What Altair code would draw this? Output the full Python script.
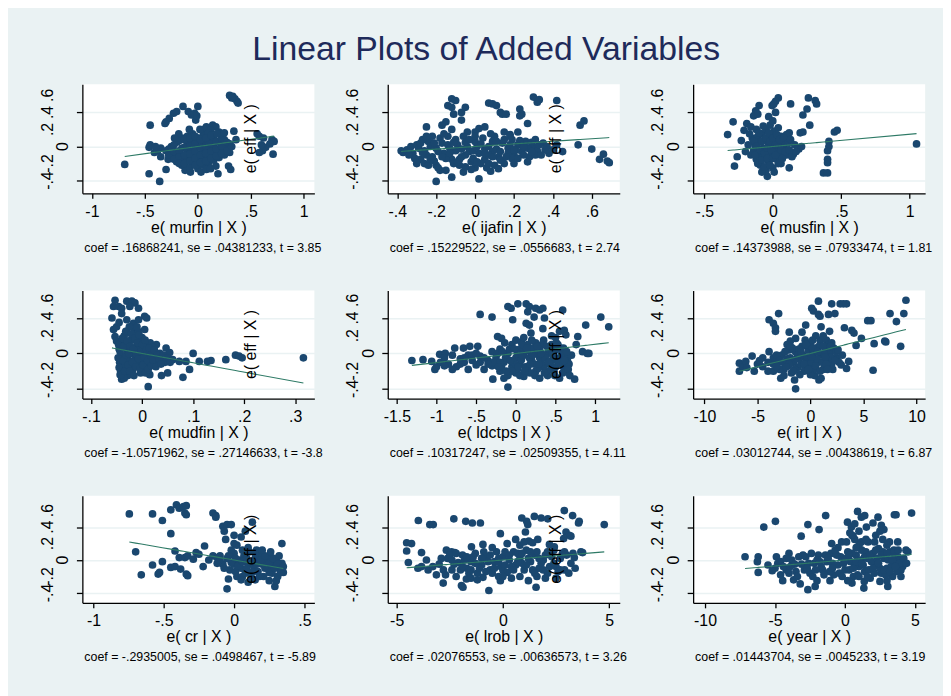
import altair as alt
import pandas as pd

TITLE = "Linear Plots of Added Variables"
FONT = "Liberation Sans, Arial, sans-serif"
NAVY = "#1A476F"
FITCOL = "#2E7A66"
BG = "#EAF2F3"

y_ticks = [-0.4, -0.2, 0, 0.2, 0.4, 0.6]
var_names = ["murfin", "ijafin", "musfin", "mudfin", "ldctps", "irt", "cr", "lrob", "year"]
coefs = [0.16868241, 0.15229522, 0.14373988, -1.0571962, 0.10317247, 0.03012744, -0.2935005, 0.02076553, 0.01443704]
notes = [
    "coef = .16868241, se = .04381233, t = 3.85",
    "coef = .15229522, se = .0556683, t = 2.74",
    "coef = .14373988, se = .07933474, t = 1.81",
    "coef = -1.0571962, se = .27146633, t = -3.89",
    "coef = .10317247, se = .02509355, t = 4.11",
    "coef = .03012744, se = .00438619, t = 6.87",
    "coef = -.2935005, se = .0498467, t = -5.89",
    "coef = .02076553, se = .00636573, t = 3.26",
    "coef = .01443704, se = .0045233, t = 3.19",
]
x_ticks = [
    [-1, -0.5, 0, 0.5, 1],
    [-0.4, -0.2, 0, 0.2, 0.4, 0.6],
    [-0.5, 0, 0.5, 1],
    [-0.1, 0, 0.1, 0.2, 0.3],
    [-1.5, -1, -0.5, 0, 0.5, 1],
    [-10, -5, 0, 5, 10],
    [-1, -0.5, 0, 0.5],
    [-5, 0, 5],
    [-10, -5, 0, 5],
]
x_domains = [
    [-1.09, 1.10], [-0.449, 0.744], [-0.582, 1.113],
    [-0.117, 0.3375], [-1.614, 1.309], [-11.06, 10.81],
    [-1.079, 0.571], [-5.42, 5.5], [-10.85, 5.73],
]
row_y_domains = [[-0.55, 0.73], [-0.51, 0.71], [-0.52, 0.78]]
row_heights = [110, 109, 108]

murfin_pts = [
    (0.30, 0.60), (0.33, 0.59), (0.35, 0.56), (0.37, 0.53), (0.38, 0.51), (0.32, 0.57),
    (-0.14, 0.47), (0.0, 0.47), (-0.09, 0.41), (-0.06, 0.37), (-0.03, 0.39), (-0.02, 0.31), (-0.01, 0.36),
    (-0.23, 0.39), (-0.20, 0.41), (-0.27, 0.33), (-0.30, 0.29), (-0.31, 0.27), (-0.45, 0.25),
    (0.08, 0.23), (0.14, 0.25), (0.17, 0.23), (0.20, 0.17), (0.12, 0.19), (0.06, 0.20),
    (0.34, 0.18), (0.36, 0.08),
    (0.56, 0.15), (0.58, 0.12), (0.70, 0.08), (0.72, 0.06), (0.68, 0.03), (0.64, -0.01), (0.61, -0.05),
    (0.58, -0.07), (0.71, -0.09), (0.62, 0.10), (0.60, 0.02),
    (-0.69, -0.21), (-0.46, -0.32), (-0.36, -0.41), (-0.30, -0.27), (0.17, -0.23), (0.19, -0.32),
    (0.29, -0.23), (0.31, -0.27),
    (-0.45, 0.02), (-0.46, -0.01), (-0.41, -0.07), (-0.38, -0.05), (-0.35, -0.12),
    (-0.30, -0.05), (-0.25, 0.0), (-0.25, -0.12), (-0.20, 0.05), (-0.20, -0.08), (-0.20, -0.18),
    (-0.15, 0.10), (-0.15, -0.02), (-0.15, -0.14), (-0.15, -0.22), (-0.10, 0.12), (-0.10, 0.03),
    (-0.10, -0.06), (-0.10, -0.16), (-0.10, -0.25), (-0.05, 0.15), (-0.05, 0.06), (-0.05, -0.04),
    (-0.05, -0.12), (-0.05, -0.20), (0.0, 0.10), (0.0, 0.0), (0.0, -0.09), (0.0, -0.17), (0.0, -0.26),
    (0.05, 0.13), (0.05, 0.04), (0.05, -0.05), (0.05, -0.14), (0.05, -0.22), (0.10, 0.16), (0.10, 0.07),
    (0.10, -0.02), (0.10, -0.11), (0.10, -0.19), (0.15, 0.10), (0.15, 0.0), (0.15, -0.08), (0.15, -0.16),
    (0.20, 0.05), (0.20, -0.05), (0.20, -0.13), (0.25, 0.08), (0.25, -0.02), (0.25, -0.10), (0.30, 0.03),
    (0.30, -0.07), (-0.28, -0.15), (-0.12, -0.28), (-0.07, -0.30), (0.03, -0.30), (0.08, -0.27), (0.12, -0.26),
    (-0.275, -0.03), (-0.275, -0.10), (-0.225, 0.02), (-0.225, -0.06), (-0.225, -0.15), (-0.175, 0.07),
    (-0.175, -0.05), (-0.175, -0.12), (-0.175, -0.20), (-0.125, 0.08), (-0.125, -0.01), (-0.125, -0.10),
    (-0.125, -0.20), (-0.075, 0.10), (-0.075, 0.0), (-0.075, -0.09), (-0.075, -0.17), (-0.075, -0.25),
    (-0.025, 0.12), (-0.025, 0.03), (-0.025, -0.06), (-0.025, -0.14), (-0.025, -0.22), (0.025, 0.08),
    (0.025, -0.01), (0.025, -0.10), (0.025, -0.19), (0.075, 0.10), (0.075, 0.0), (0.075, -0.08),
    (0.075, -0.17), (0.125, 0.13), (0.125, 0.03), (0.125, -0.06), (0.125, -0.14), (0.175, 0.06),
    (0.175, -0.03), (0.175, -0.11), (0.225, 0.10), (0.225, 0.0), (0.225, -0.08), (0.275, 0.05),
    (0.275, -0.05), (0.32, 0.0), (-0.35, -0.02), (-0.40, 0.0), (0.25, 0.16), (0.18, 0.15), (0.02, 0.20),
    (-0.08, 0.20), (-0.18, 0.15), (-0.22, 0.10),
]
ijafin_pts = [
    (-0.12, 0.56), (-0.10, 0.54), (-0.14, 0.48), (-0.12, 0.46), (-0.11, 0.38), (-0.15, 0.29), (-0.17, 0.25),
    (-0.07, 0.40), (-0.05, 0.46), (-0.07, 0.31),
    (0.07, 0.51), (0.09, 0.50), (0.11, 0.48), (0.13, 0.40), (0.14, 0.38), (0.16, 0.38),
    (-0.25, 0.23), (0.23, 0.44), (0.24, 0.38), (0.23, 0.36), (0.27, 0.27),
    (0.30, 0.58), (0.32, 0.52), (0.33, 0.55), (0.42, 0.54),
    (0.54, 0.25), (0.56, 0.30), (0.53, 0.02), (0.60, -0.03),
    (0.66, -0.09), (0.64, -0.15), (0.68, -0.17), (0.69, -0.19),
    (-0.20, -0.41), (-0.12, -0.36), (0.02, -0.38), (0.08, -0.29),
    (-0.38, -0.05), (-0.37, -0.07), (-0.35, -0.04),
    (0.02, 0.21), (0.05, 0.23), (-0.04, 0.17), (0.0, 0.17), (0.15, 0.17), (0.18, 0.14), (0.22, 0.17),
    (-0.32, -0.08), (-0.30, 0.02), (-0.28, -0.15), (-0.26, -0.05), (-0.24, 0.06), (-0.22, -0.12),
    (-0.20, -0.02), (-0.20, -0.22), (-0.18, 0.10), (-0.16, -0.08), (-0.15, -0.28), (-0.14, 0.02),
    (-0.12, -0.15), (-0.10, 0.08), (-0.10, -0.05), (-0.08, -0.22), (-0.06, 0.12), (-0.05, -0.10),
    (-0.04, 0.0), (-0.02, -0.18), (0.0, 0.06), (0.0, -0.25), (0.02, -0.08), (0.04, 0.10), (0.05, -0.15),
    (0.07, 0.0), (0.09, -0.06), (0.10, 0.12), (0.12, -0.12), (0.14, 0.04), (0.15, -0.20), (0.17, -0.02),
    (0.19, 0.08), (0.20, -0.10), (0.22, 0.02), (0.24, -0.06), (0.26, 0.06), (0.28, -0.12), (0.30, 0.0),
    (0.32, -0.05), (0.35, 0.04), (0.38, -0.08), (-0.22, 0.12), (-0.26, -0.20), (-0.06, -0.30),
    (0.10, -0.22), (-0.12, 0.20), (0.08, 0.15),
    (-0.31, -0.14), (-0.29, -0.02), (-0.27, 0.08), (-0.25, -0.10), (-0.23, 0.0), (-0.21, -0.17),
    (-0.19, -0.06), (-0.17, 0.04), (-0.15, -0.14), (-0.13, -0.02), (-0.11, -0.20), (-0.09, 0.02),
    (-0.07, -0.12), (-0.05, 0.05), (-0.03, -0.06), (-0.01, -0.14), (0.01, 0.0), (0.03, -0.20),
    (0.05, -0.03), (0.07, -0.10), (0.09, 0.06), (0.11, -0.03), (0.13, -0.16), (0.15, 0.08),
    (0.17, -0.08), (0.19, -0.14), (0.21, -0.04), (0.23, 0.07), (0.25, -0.10), (0.27, -0.02),
    (0.29, 0.05), (0.31, -0.10), (0.33, 0.02), (0.36, -0.04), (-0.18, -0.28), (-0.02, -0.27),
    (0.12, -0.26), (0.0, 0.12), (-0.14, 0.12), (0.18, 0.12), (-0.08, -0.15), (0.06, -0.25),
    (-0.24, -0.22), (0.20, -0.20),
    (-0.34, -0.10), (-0.33, 0.0), (-0.30, -0.20), (-0.28, 0.04), (-0.27, -0.07), (-0.25, 0.12),
    (-0.23, -0.15), (-0.21, 0.04), (-0.19, -0.25), (-0.17, -0.12), (-0.16, 0.15), (-0.13, -0.08),
    (-0.11, 0.05), (-0.09, -0.18), (-0.07, -0.03), (-0.05, -0.24), (-0.03, 0.08), (-0.01, -0.05),
    (0.01, -0.18), (0.03, 0.03), (0.05, -0.08), (0.07, -0.20), (0.09, -0.12), (0.11, 0.06),
    (0.13, -0.06), (0.16, -0.12), (0.18, 0.02), (0.20, -0.04), (0.22, -0.14), (0.25, 0.0),
    (0.27, -0.18), (0.29, -0.06), (0.31, 0.08), (0.34, -0.10), (0.37, 0.0), (0.40, -0.04),
    (0.42, 0.02), (0.45, -0.06),
]
musfin_pts = [
    (0.04, 0.57), (0.02, 0.53), (-0.005, 0.48), (0.007, 0.50),
    (-0.10, 0.48), (-0.125, 0.42), (-0.14, 0.36), (-0.11, 0.38),
    (0.13, 0.50), (0.26, 0.57), (0.31, 0.54), (0.32, 0.50), (0.25, 0.44), (0.22, 0.37), (0.27, 0.25),
    (-0.29, 0.29), (-0.19, 0.27), (-0.16, 0.23), (-0.21, 0.19), (-0.33, 0.14), (-0.23, 0.07),
    (0.45, 0.17), (0.47, 0.19), (0.41, 0.06), (0.41, 0.0), (0.40, -0.05), (0.40, -0.15), (0.40, -0.19),
    (0.37, -0.31), (0.40, -0.31),
    (1.05, 0.03), (0.12, -0.25), (-0.28, -0.23), (-0.26, -0.12), (-0.04, -0.35),
    (0.20, 0.16), (0.22, 0.17), (0.15, -0.09), (0.19, -0.03), (0.21, 0.0), (0.12, 0.16),
    (-0.15, 0.10), (-0.14, -0.05), (-0.13, 0.02), (-0.12, -0.15), (-0.11, 0.12), (-0.10, -0.08),
    (-0.10, 0.05), (-0.09, -0.22), (-0.08, 0.15), (-0.07, -0.02), (-0.07, -0.12), (-0.06, 0.08),
    (-0.05, -0.28), (-0.05, 0.20), (-0.04, -0.06), (-0.03, 0.03), (-0.03, -0.18), (-0.02, 0.12),
    (-0.01, -0.10), (0.0, 0.0), (0.0, -0.25), (0.01, 0.18), (0.02, -0.04), (0.03, 0.07), (0.03, -0.15),
    (0.05, 0.02), (0.05, -0.08), (0.06, 0.12), (0.08, -0.02), (0.09, 0.05), (0.10, -0.10), (0.10, 0.14),
    (-0.12, 0.20), (-0.16, -0.10), (-0.08, -0.30), (0.06, -0.20), (-0.02, 0.25), (0.04, 0.22),
    (-0.14, 0.06), (-0.13, -0.10), (-0.12, 0.0), (-0.11, -0.20), (-0.10, 0.16), (-0.09, -0.04),
    (-0.08, 0.06), (-0.08, -0.16), (-0.07, 0.24), (-0.06, -0.08), (-0.06, -0.24), (-0.05, 0.10),
    (-0.04, -0.02), (-0.04, -0.14), (-0.03, 0.16), (-0.02, 0.06), (-0.02, -0.22), (-0.01, -0.04),
    (0.0, 0.10), (0.0, -0.14), (0.01, -0.30), (0.02, 0.02), (0.02, -0.10), (0.03, 0.14), (0.04, -0.20),
    (0.05, 0.08), (0.06, -0.04), (0.07, -0.14), (0.08, 0.10), (0.09, -0.06), (0.11, 0.04), (0.12, -0.04),
    (0.13, 0.08), (0.14, -0.12), (0.16, 0.02), (0.17, -0.06), (-0.18, 0.02), (-0.20, -0.06),
    (-0.17, 0.15), (0.0, 0.30), (-0.03, 0.35), (0.02, 0.40),
]
mudfin_pts = [
    (-0.053, 0.60), (-0.056, 0.53), (-0.059, 0.40), (-0.046, 0.53), (-0.040, 0.51), (-0.030, 0.59),
    (-0.020, 0.59), (-0.014, 0.57), (-0.007, 0.51), (-0.024, 0.53),
    (-0.017, 0.34), (-0.007, 0.38), (0.005, 0.42), (0.009, 0.40),
    (-0.056, 0.27), (-0.053, 0.19), (-0.050, 0.14),
    (-0.030, 0.25), (-0.014, 0.23), (0.005, 0.27), (-0.004, 0.18),
    (0.028, 0.10), (0.047, 0.06), (0.054, 0.01), (0.100, 0.0),
    (0.112, -0.09), (0.128, -0.09), (0.135, -0.08), (0.164, -0.07),
    (0.183, -0.02), (0.190, -0.03), (0.196, -0.05), (0.316, -0.05),
    (0.093, -0.18), (0.080, -0.27), (0.038, -0.25), (0.050, -0.22), (0.012, -0.375), (-0.040, -0.29),
    (-0.043, -0.24), (0.073, -0.09), (0.086, -0.09), (0.060, -0.07),
    (-0.045, 0.05), (-0.044, -0.10), (-0.042, -0.20), (-0.040, 0.12), (-0.038, -0.03), (-0.035, 0.20),
    (-0.033, -0.15), (-0.030, 0.05), (-0.028, -0.25), (-0.025, -0.08), (-0.022, 0.15), (-0.020, 0.0),
    (-0.018, -0.18), (-0.015, 0.28), (-0.013, -0.05), (-0.010, 0.10), (-0.008, -0.12), (-0.005, 0.04),
    (-0.003, -0.22), (0.0, 0.18), (0.0, -0.02), (0.003, -0.10), (0.005, 0.08), (0.008, -0.16),
    (0.010, 0.0), (0.013, -0.06), (0.016, 0.12), (0.020, -0.12), (0.022, 0.02), (0.025, -0.04),
    (0.030, -0.10), (0.035, 0.0), (0.040, -0.06), (0.045, -0.10), (-0.025, 0.30), (-0.008, 0.25),
    (0.015, -0.24), (-0.035, -0.28), (0.020, 0.07),
    (-0.047, -0.05), (-0.046, 0.10), (-0.045, -0.16), (-0.043, 0.02), (-0.041, -0.24), (-0.039, 0.17),
    (-0.037, -0.08), (-0.036, 0.08), (-0.034, -0.20), (-0.032, 0.25), (-0.031, -0.02), (-0.029, 0.14),
    (-0.027, -0.13), (-0.026, 0.0), (-0.024, -0.20), (-0.023, 0.08), (-0.021, 0.22), (-0.019, -0.10),
    (-0.017, 0.05), (-0.016, -0.25), (-0.014, 0.17), (-0.012, -0.15), (-0.011, -0.01), (-0.009, 0.12),
    (-0.007, -0.06), (-0.006, 0.21), (-0.004, -0.17), (-0.002, 0.02), (0.001, 0.10), (0.002, -0.13),
    (0.004, -0.04), (0.006, 0.15), (0.007, -0.22), (0.009, 0.04), (0.011, -0.08), (0.012, -0.18),
    (0.014, 0.06), (0.017, -0.02), (0.018, -0.14), (0.021, -0.07), (0.024, 0.04), (0.027, -0.15),
    (0.030, -0.02), (0.033, -0.06), (0.037, -0.12), (0.042, -0.02), (0.050, -0.05), (0.055, -0.10),
    (-0.050, 0.30), (-0.045, 0.35), (-0.030, 0.38), (-0.040, 0.45), (-0.010, 0.30),
]
ldctps_pts = [
    (-0.10, 0.53), (-0.06, 0.51), (0.025, 0.56), (0.13, 0.56), (0.17, 0.53), (0.15, 0.47), (0.25, 0.51),
    (0.30, 0.49), (0.34, 0.51), (0.36, 0.40), (0.23, 0.41), (0.13, 0.34), (0.17, 0.32),
    (-0.04, 0.38), (-0.45, 0.44), (-0.30, 0.41), (0.59, 0.49), (0.88, 0.32), (1.07, 0.41), (1.17, 0.30),
    (0.78, 0.19), (0.61, 0.26), (0.63, 0.21), (0.34, 0.28), (0.19, 0.23),
    (-0.23, 0.19), (-0.18, 0.17), (-0.14, 0.12), (0.0, 0.15), (0.07, 0.13),
    (0.76, 0.10), (0.84, 0.02), (0.90, 0.0), (0.92, 0.0),
    (0.74, -0.29), (-0.10, -0.38), (-0.29, -0.29),
    (-1.31, -0.08), (-1.17, -0.07), (-1.06, -0.09), (-1.02, -0.18), (-1.0, -0.15),
    (-0.96, -0.01), (-0.89, 0.0), (-0.77, 0.06), (-0.66, 0.06), (-0.58, 0.08), (-0.48, 0.08),
    (-0.95, -0.10), (-0.90, -0.05), (-0.85, -0.12), (-0.80, -0.02), (-0.75, -0.15), (-0.70, -0.06),
    (-0.65, -0.10), (-0.60, -0.02), (-0.60, -0.18), (-0.55, -0.08), (-0.50, -0.13), (-0.45, -0.03),
    (-0.40, -0.18), (-0.35, -0.08), (-0.30, -0.14), (-0.30, 0.02), (-0.80, -0.18),
    (-0.25, -0.05), (-0.20, 0.05), (-0.20, -0.20), (-0.15, -0.10), (-0.10, 0.0), (-0.10, -0.25),
    (-0.05, 0.10), (-0.05, -0.15), (0.0, -0.05), (0.0, -0.22), (0.05, 0.05), (0.05, -0.12), (0.10, -0.02),
    (0.10, -0.26), (0.15, 0.10), (0.15, -0.15), (0.20, 0.0), (0.20, -0.08), (0.25, -0.20), (0.25, 0.12),
    (0.30, -0.05), (0.30, 0.05), (0.35, -0.15), (0.35, 0.15), (0.40, 0.0), (0.40, -0.25), (0.45, -0.08),
    (0.45, 0.10), (0.50, -0.15), (0.50, 0.04), (0.55, -0.05), (0.55, -0.28), (0.60, 0.06), (0.60, -0.15),
    (0.65, -0.08), (-0.15, -0.28), (0.30, -0.28), (0.45, 0.20),
    (-0.28, -0.10), (-0.23, 0.0), (-0.18, -0.15), (-0.13, -0.05), (-0.08, 0.05), (-0.03, -0.10),
    (0.02, 0.0), (0.02, -0.18), (0.07, -0.07), (0.08, 0.10), (0.12, -0.15), (0.13, 0.03), (0.17, -0.05),
    (0.18, -0.22), (0.22, 0.06), (0.23, -0.12), (0.27, 0.0), (0.28, -0.17), (0.32, -0.10), (0.33, 0.10),
    (0.37, -0.05), (0.38, -0.20), (0.42, 0.05), (0.43, -0.12), (0.47, -0.02), (0.48, -0.20), (0.52, -0.08),
    (0.53, 0.10), (0.57, -0.12), (0.58, 0.0), (0.62, -0.05), (0.63, -0.20), (0.67, -0.12), (0.70, -0.02),
    (0.10, 0.18), (0.20, 0.15), (0.50, 0.18), (0.55, 0.25), (-0.05, -0.20), (0.05, -0.25), (-0.20, -0.10),
    (-0.35, -0.12), (-0.45, -0.10), (-0.55, -0.02), (-0.65, -0.05),
    (-0.22, -0.15), (-0.17, 0.02), (-0.12, -0.20), (-0.07, -0.08), (-0.02, 0.05), (0.03, -0.15),
    (0.08, -0.02), (0.11, -0.20), (0.14, 0.06), (0.18, -0.12), (0.21, -0.02), (0.24, -0.25), (0.27, 0.08),
    (0.29, -0.12), (0.32, 0.0), (0.36, -0.22), (0.39, 0.08), (0.41, -0.10), (0.44, -0.18), (0.46, 0.0),
    (0.49, -0.25), (0.51, 0.12), (0.54, -0.10), (0.56, 0.06), (0.59, -0.22), (0.61, -0.08), (0.64, 0.02),
    (0.66, -0.18), (0.68, -0.25), (-0.40, -0.05), (-0.50, 0.0), (-0.70, -0.12), (-0.90, -0.14),
]
irt_pts = [
    (0.75, 0.59), (0.12, 0.51), (0.28, 0.48), (0.75, 0.44), (0.9, 0.42),
    (2.0, 0.56), (2.8, 0.56), (3.1, 0.56), (3.4, 0.56), (1.7, 0.44), (2.3, 0.45),
    (-3.0, 0.45), (-3.9, 0.38), (-3.5, 0.34), (-3.3, 0.29), (-3.3, 0.25), (-0.45, 0.32),
    (5.4, 0.37), (5.7, 0.37), (7.5, 0.45), (8.1, 0.36), (8.8, 0.45), (9.0, 0.60),
    (3.2, 0.29), (3.9, 0.26), (4.1, 0.23), (4.8, 0.17), (4.3, 0.09), (6.0, 0.11), (7.0, 0.14), (7.1, 0.13),
    (8.5, 0.08), (5.9, -0.19),
    (-2.0, 0.24), (-0.8, 0.24), (-1.4, 0.17), (-1.9, 0.14), (-2.2, 0.10),
    (-5.5, -0.03), (-6.7, -0.11), (-6.7, -0.20), (-6.4, -0.15), (-6.1, -0.09), (-5.3, -0.20), (-4.5, -0.05),
    (-3.9, 0.02), (-1.4, -0.40), (0.8, -0.30), (2.9, -0.13), (3.4, -0.17), (3.6, -0.09),
    (-3.0, -0.10), (-2.7, -0.02), (-2.5, -0.18), (-2.2, -0.06), (-2.0, 0.04), (-1.8, -0.22), (-1.6, -0.10),
    (-1.4, 0.02), (-1.2, -0.16), (-1.0, -0.05), (-0.8, 0.08), (-0.6, -0.20), (-0.4, -0.08), (-0.2, 0.04),
    (0.0, -0.14), (0.0, 0.12), (0.2, -0.02), (0.4, -0.25), (0.5, 0.06), (0.7, -0.10), (0.9, 0.15),
    (1.0, -0.02), (1.2, -0.18), (1.4, 0.08), (1.6, -0.06), (1.8, 0.02), (2.0, -0.12), (2.2, 0.06),
    (2.5, -0.05), (-4.5, -0.15), (-4.0, -0.20), (-3.5, -0.12), (-2.8, -0.28), (-1.5, -0.30), (1.0, -0.28),
    (-0.5, 0.15), (0.5, 0.20), (1.5, 0.15), (-3.5, -0.05),
    (-3.2, -0.02), (-2.9, -0.18), (-2.6, -0.10), (-2.4, 0.02), (-2.1, -0.14), (-1.9, -0.05), (-1.7, 0.06),
    (-1.5, -0.18), (-1.3, -0.06), (-1.1, 0.05), (-0.9, -0.12), (-0.7, -0.02), (-0.5, -0.15), (-0.3, -0.04),
    (-0.1, 0.08), (0.1, -0.10), (0.3, 0.02), (0.3, -0.18), (0.6, -0.06), (0.8, 0.08), (1.1, -0.10),
    (1.3, 0.0), (1.5, -0.12), (1.7, 0.10), (1.9, -0.04), (2.1, -0.18), (2.4, 0.02), (2.7, -0.10),
    (3.0, -0.02), (0.2, 0.15), (1.2, 0.20), (-1.0, -0.24), (0.0, -0.24), (-2.0, -0.12), (-4.0, -0.10),
    (-5.0, -0.12), (-6.0, -0.16), (2.0, 0.12), (1.8, 0.25), (1.0, 0.30),
    (-2.9, -0.08), (-2.3, -0.15), (-1.9, 0.08), (-1.6, -0.20), (-1.2, -0.02), (-0.9, 0.02), (-0.6, -0.12),
    (-0.4, 0.10), (-0.2, -0.18), (0.1, -0.04), (0.2, 0.06), (0.5, -0.14), (0.7, 0.02), (0.9, -0.20),
    (1.2, 0.08), (1.4, -0.04), (1.6, -0.18), (1.9, 0.08), (2.3, -0.08), (2.6, 0.04), (-3.5, -0.20),
    (-3.2, -0.15), (-4.8, -0.08), (-2.5, -0.25),
]
cr_pts = [
    (-0.745, 0.56), (-0.58, 0.56), (-0.51, 0.48), (-0.45, 0.61), (-0.41, 0.67), (-0.39, 0.63), (-0.36, 0.65),
    (-0.34, 0.66), (-0.35, 0.57), (-0.34, 0.55),
    (-0.45, 0.32), (-0.15, 0.57), (-0.13, 0.54), (-0.13, 0.52),
    (-0.08, 0.41), (-0.05, 0.43), (-0.02, 0.43), (-0.07, 0.35), (-0.06, 0.25),
    (0.13, 0.46), (0.08, 0.35), (0.34, 0.20), (0.0, 0.20), (0.02, 0.18),
    (-0.70, 0.10), (-0.42, 0.11), (-0.21, 0.17),
    (-0.66, -0.18), (-0.58, -0.06), (-0.51, -0.02), (-0.54, -0.17), (-0.53, -0.15),
    (-0.45, -0.09), (-0.42, -0.08), (-0.38, -0.11), (-0.34, -0.17), (-0.33, -0.19),
    (-0.39, 0.03), (-0.35, 0.03), (-0.33, 0.05), (-0.29, 0.01), (-0.27, 0.09), (-0.25, 0.07), (-0.22, -0.08),
    (-0.05, -0.35), (0.29, -0.32), (-0.04, -0.23),
    (-0.15, 0.05), (-0.12, 0.03), (-0.10, 0.05), (-0.18, 0.0),
    (-0.08, -0.05), (-0.05, 0.02), (-0.03, -0.12), (0.0, 0.08), (0.0, -0.05), (0.02, -0.20), (0.04, 0.0),
    (0.05, -0.10), (0.07, 0.05), (0.08, -0.16), (0.10, -0.03), (0.11, 0.10), (0.12, -0.22), (0.14, -0.08),
    (0.15, 0.02), (0.17, -0.14), (0.18, 0.06), (0.20, -0.05), (0.21, -0.20), (0.23, 0.0), (0.24, -0.10),
    (0.26, 0.04), (0.27, -0.16), (0.28, -0.06), (0.30, 0.0), (0.31, -0.20), (0.33, -0.10), (0.34, -0.04),
    (0.35, -0.15), (0.06, 0.12), (0.16, 0.12), (0.25, -0.25), (0.10, -0.27),
    (-0.10, 0.0), (-0.07, -0.10), (-0.04, 0.05), (-0.02, -0.03), (0.01, 0.02), (0.01, -0.14), (0.03, -0.07),
    (0.06, -0.02), (0.06, -0.20), (0.09, 0.02), (0.09, -0.10), (0.12, -0.03), (0.13, -0.15), (0.15, 0.08),
    (0.16, -0.05), (0.18, -0.20), (0.19, 0.0), (0.22, -0.10), (0.22, 0.05), (0.25, -0.04), (0.25, -0.15),
    (0.28, 0.02), (0.29, -0.10), (0.31, -0.05), (0.32, 0.05), (0.33, -0.15), (0.35, -0.08), (0.20, 0.12),
    (0.10, 0.15), (0.26, 0.10), (0.15, -0.24), (0.30, -0.25), (0.05, -0.24), (-0.12, -0.04), (0.0, 0.30),
    (0.05, 0.28), (-0.02, 0.12),
]
lrob_pts = [
    (-3.98, 0.48), (-3.44, 0.43), (-3.28, 0.43), (-2.31, 0.50), (-1.75, 0.47), (-1.44, 0.45), (-1.06, 0.45),
    (-0.12, 0.32), (0.89, 0.51), (1.12, 0.47), (1.17, 0.43), (1.06, 0.34), (1.64, 0.25), (1.48, 0.53),
    (1.80, 0.51), (2.11, 0.50), (2.89, 0.60), (3.28, 0.54), (3.59, 0.47), (3.56, 0.45), (2.97, 0.34),
    (3.12, 0.30), (3.20, 0.29), (2.86, 0.26), (4.77, 0.43),
    (-4.53, 0.21), (-4.30, 0.20), (-4.53, 0.11), (-3.83, 0.09), (-4.45, -0.03), (-3.83, -0.08),
    (-0.94, 0.19), (-1.48, 0.16), (-2.66, 0.12), (-2.42, 0.10), (-2.27, 0.09),
    (1.22, 0.23), (1.40, 0.21), (2.42, 0.16), (2.19, 0.19), (3.67, 0.10), (3.75, 0.09), (3.36, 0.03),
    (-2.81, -0.28), (-1.95, -0.31), (-1.88, -0.33), (-1.72, -0.23), (-0.66, -0.37), (1.56, -0.33),
    (-0.94, -0.21), (-3.52, -0.12), (-3.13, -0.18), (-0.12, -0.25),
    (-3.0, -0.05), (-2.6, 0.02), (-2.4, -0.12), (-2.1, -0.03), (-1.9, 0.06), (-1.7, -0.10), (-1.5, -0.02),
    (-1.3, 0.08), (-1.2, -0.16), (-1.0, -0.06), (-0.8, 0.04), (-0.6, -0.12), (-0.4, -0.02), (-0.3, 0.10),
    (-0.1, -0.08), (0.0, 0.04), (0.2, -0.15), (0.3, 0.0), (0.5, 0.10), (0.6, -0.06), (0.8, 0.02),
    (1.0, -0.12), (1.1, 0.12), (1.3, -0.02), (1.5, 0.06), (1.7, -0.10), (1.9, 0.0), (2.1, -0.16),
    (2.3, 0.04), (2.5, -0.08), (2.7, 0.02), (2.9, -0.12), (3.0, 0.06), (-2.2, -0.20), (0.4, -0.22),
    (1.2, -0.25), (2.5, -0.22), (0.8, 0.18), (-0.5, 0.15),
    (-2.8, -0.12), (-2.5, 0.06), (-2.3, -0.05), (-2.0, -0.12), (-1.8, 0.0), (-1.6, -0.16), (-1.4, 0.04),
    (-1.1, -0.10), (-0.9, 0.10), (-0.7, -0.02), (-0.5, -0.16), (-0.2, 0.02), (0.0, -0.12), (0.1, 0.10),
    (0.4, -0.08), (0.7, 0.08), (0.9, -0.04), (1.2, 0.02), (1.4, -0.12), (1.6, 0.10), (1.8, -0.04),
    (2.0, 0.06), (2.2, -0.08), (2.4, 0.12), (2.6, -0.14), (2.8, 0.08), (3.2, -0.04), (0.2, 0.20),
    (0.6, 0.25), (1.0, 0.22), (-0.2, -0.20), (0.8, -0.20), (2.0, -0.22), (3.4, -0.10), (-3.3, -0.08),
    (1.6, -0.20), (-1.5, -0.22),
    (-2.9, 0.02), (-2.7, -0.18), (-2.4, 0.0), (-2.2, 0.08), (-1.9, -0.08), (-1.7, 0.04), (-1.5, -0.12),
    (-1.3, -0.04), (-1.0, 0.02), (-0.8, -0.14), (-0.6, 0.06), (-0.4, -0.10), (-0.2, -0.02), (0.1, -0.06),
    (0.3, 0.06), (0.5, -0.12), (0.7, -0.02), (0.9, 0.08), (1.1, -0.06), (1.3, 0.10), (1.5, -0.16),
    (1.7, 0.02), (1.9, -0.12), (2.1, 0.10), (2.4, -0.04), (2.7, -0.12), (2.9, 0.10), (3.1, -0.16),
    (3.3, 0.08), (0.0, -0.20), (-1.2, -0.24), (-3.6, 0.0), (-4.0, -0.10),
]
year_pts = [
    (-7.14, 0.04), (-6.2, 0.04), (-6.26, -0.02), (-6.2, -0.15), (-5.8, 0.40), (-4.97, 0.47), (-4.9, 0.04),
    (-4.45, -0.25), (-3.67, -0.24), (-3.2, -0.29), (-3.13, 0.29), (-2.65, 0.43), (-2.65, -0.36),
    (-2.13, -0.32), (-1.85, 0.37), (-1.38, 0.54), (-1.07, -0.25), (-0.95, 0.20), (-0.24, 0.22), (0.11, 0.22),
    (0.18, 0.46), (0.46, 0.40), (0.70, 0.44), (0.90, 0.59), (1.17, 0.52), (1.41, 0.54), (1.53, 0.40),
    (0.35, 0.33), (0.58, 0.29), (0.70, 0.25), (1.17, 0.22),
    (2.0, 0.45), (2.36, 0.52), (2.6, 0.42), (2.78, 0.37), (3.53, 0.55), (3.65, 0.55), (4.76, 0.57),
    (2.7, 0.25), (3.18, 0.22), (3.77, 0.22),
    (4.12, -0.08), (1.35, -0.34), (1.38, -0.26), (3.06, -0.32), (2.12, 0.22), (1.65, 0.22), (4.36, 0.12),
    (4.5, 0.10),
    (-5.5, -0.06), (-5.0, -0.10), (-4.6, -0.02), (-4.2, -0.12), (-3.8, 0.0), (-3.5, -0.14), (-3.1, -0.05),
    (-2.8, 0.04), (-2.5, -0.16), (-2.2, -0.04), (-1.9, 0.06), (-1.6, -0.12), (-1.3, -0.02), (-1.0, 0.08),
    (-0.8, -0.18), (-0.5, -0.06), (-0.3, 0.04), (0.0, -0.12), (0.2, 0.10), (0.4, -0.02), (0.6, -0.20),
    (0.8, 0.06), (1.0, -0.08), (1.2, 0.12), (1.4, -0.14), (1.6, 0.02), (1.8, -0.22), (2.0, 0.08),
    (2.2, -0.06), (2.4, 0.14), (2.6, -0.16), (2.8, 0.02), (3.0, -0.10), (3.2, 0.10), (3.4, -0.20),
    (3.6, -0.02), (3.8, 0.04), (4.0, -0.12), (-2.0, -0.25), (0.5, -0.28), (2.5, -0.26), (1.0, 0.18),
    (3.0, 0.18), (-4.0, 0.08),
    (-5.2, -0.13), (-4.8, -0.04), (-4.4, -0.08), (-4.0, -0.16), (-3.6, -0.05), (-3.3, 0.04), (-2.9, -0.12),
    (-2.6, -0.04), (-2.3, -0.20), (-2.0, 0.0), (-1.7, -0.08), (-1.4, 0.06), (-1.1, -0.14), (-0.9, -0.04),
    (-0.6, 0.06), (-0.4, -0.16), (-0.1, -0.04), (0.1, 0.02), (0.3, -0.12), (0.5, 0.08), (0.7, -0.06),
    (0.9, -0.18), (1.1, 0.0), (1.3, -0.06), (1.5, 0.10), (1.7, -0.12), (1.9, -0.02), (2.1, -0.16),
    (2.3, 0.02), (2.5, -0.10), (2.7, 0.10), (2.9, -0.18), (3.1, 0.0), (3.3, -0.08), (3.5, 0.06),
    (3.7, -0.14), (3.9, -0.04), (4.2, 0.02), (1.5, 0.25), (2.2, 0.30), (0.8, 0.15), (3.5, 0.12),
    (-0.5, 0.15), (0.2, -0.25), (3.0, -0.25),
    (-4.6, -0.18), (-4.2, 0.02), (-3.9, -0.08), (-3.4, -0.20), (-3.0, 0.06), (-2.7, -0.10), (-2.4, 0.08),
    (-2.1, -0.12), (-1.8, -0.02), (-1.5, -0.18), (-1.2, 0.02), (-0.9, -0.10), (-0.7, 0.12), (-0.2, -0.20),
    (0.0, 0.0), (0.3, 0.06), (0.6, -0.10), (0.8, -0.02), (1.0, -0.20), (1.2, -0.04), (1.4, 0.04),
    (1.6, -0.20), (1.8, 0.06), (2.0, -0.10), (2.2, 0.12), (2.4, -0.04), (2.6, 0.06), (2.8, -0.12),
    (3.0, 0.08), (3.2, -0.14), (3.4, 0.0), (3.6, -0.08), (3.8, 0.12), (4.0, -0.20), (4.4, -0.04),
    (0.5, 0.30), (1.0, 0.35), (2.5, 0.35),
]
all_pts = [murfin_pts, ijafin_pts, musfin_pts, mudfin_pts, ldctps_pts, irt_pts, cr_pts, lrob_pts, year_pts]

LABEL_EXPR = "replace(toString(datum.value), '0.', '.')"
W = 234


def panel(i):
    row, col = divmod(i, 3)
    H = row_heights[row]
    df = pd.DataFrame(all_pts[i], columns=["x", "y"])
    xtitle = "e( " + var_names[i] + " | X )"
    xsc = alt.Scale(domain=x_domains[i], nice=False, zero=False)
    ysc = alt.Scale(domain=row_y_domains[row], nice=False, zero=False)
    xaxis = alt.Axis(values=x_ticks[i], labelExpr=LABEL_EXPR, grid=False, tickSize=5,
                     labelPadding=5, titlePadding=0, labelFlush=False, labelOverlap=False)
    yaxis = alt.Axis(values=y_ticks, labels=False, grid=True, tickSize=6)

    pts = alt.Chart(df).mark_circle(size=60, color=NAVY, opacity=1).encode(
        x=alt.X("x:Q", scale=xsc, axis=xaxis, title=xtitle),
        y=alt.Y("y:Q", scale=ysc, axis=yaxis, title=None),
    )
    fit = alt.Chart(df).transform_calculate(fy=str(coefs[i]) + " * datum.x").mark_line(
        color=FITCOL, strokeWidth=1.1
    ).encode(
        x=alt.X("x:Q", scale=xsc, title=xtitle),
        y=alt.Y("fy:Q", scale=ysc, title=None),
    )
    ydf = pd.DataFrame({"v": y_ticks})
    ylab_base = alt.Chart(ydf).transform_calculate(
        lab="replace(toString(datum.v), '0.', '.')"
    )
    txt = dict(angle=270, fontSize=16, baseline="middle", align="center", font=FONT, color="black")
    ylab_nz = ylab_base.transform_filter("datum.v != 0").mark_text(**txt).encode(
        y=alt.Y("v:Q", scale=ysc, title=None), x=alt.value(-35), text="lab:N")
    ylab_z = ylab_base.transform_filter("datum.v == 0").mark_text(**txt).encode(
        y=alt.Y("v:Q", scale=ysc, title=None), x=alt.value(-19), text="lab:N")
    note_kwargs = dict(align="left", baseline="middle", fontSize=12.5, font=FONT, color="black")
    if i == 3:
        note_kwargs.update(limit=243, ellipsis="\u200b")
    note = alt.Chart(pd.DataFrame({"t": [notes[i]]})).mark_text(**note_kwargs).encode(
        x=alt.value(2), y=alt.value(H + 55), text="t:N"
    )
    layers = [pts, fit, ylab_nz, ylab_z, note]
    if col < 2:
        eff = alt.Chart(pd.DataFrame({"t": ["e( eff | X )"]})).mark_text(**txt).encode(
            x=alt.value(170), y=alt.value(H / 2), text="t:N")
        layers.append(eff)
    return alt.layer(*layers).properties(width=W, height=H)


panels = [panel(i) for i in range(9)]

chart = alt.concat(*panels, columns=3, spacing={"row": 98, "column": 74}, bounds="flush").properties(
    title=alt.TitleParams(text=TITLE, fontSize=34, font=FONT, color="#1e2a5a", fontWeight="normal",
                          anchor="middle", frame="bounds", offset=18),
    padding={"left": 31, "top": 22, "right": 10, "bottom": 32},
    background=BG,
).configure_view(
    fill="white", stroke=None
).configure_axis(
    domainColor="black", domainWidth=1.3, tickColor="black", tickWidth=1.3,
    labelFont=FONT, labelFontSize=16, labelColor="black",
    titleFont=FONT, titleFontSize=16, titleColor="black", titleFontWeight="normal",
    gridColor=BG, gridWidth=1.5,
)

chart.save("out.html", embed_options={"renderer": "svg", "actions": False})
